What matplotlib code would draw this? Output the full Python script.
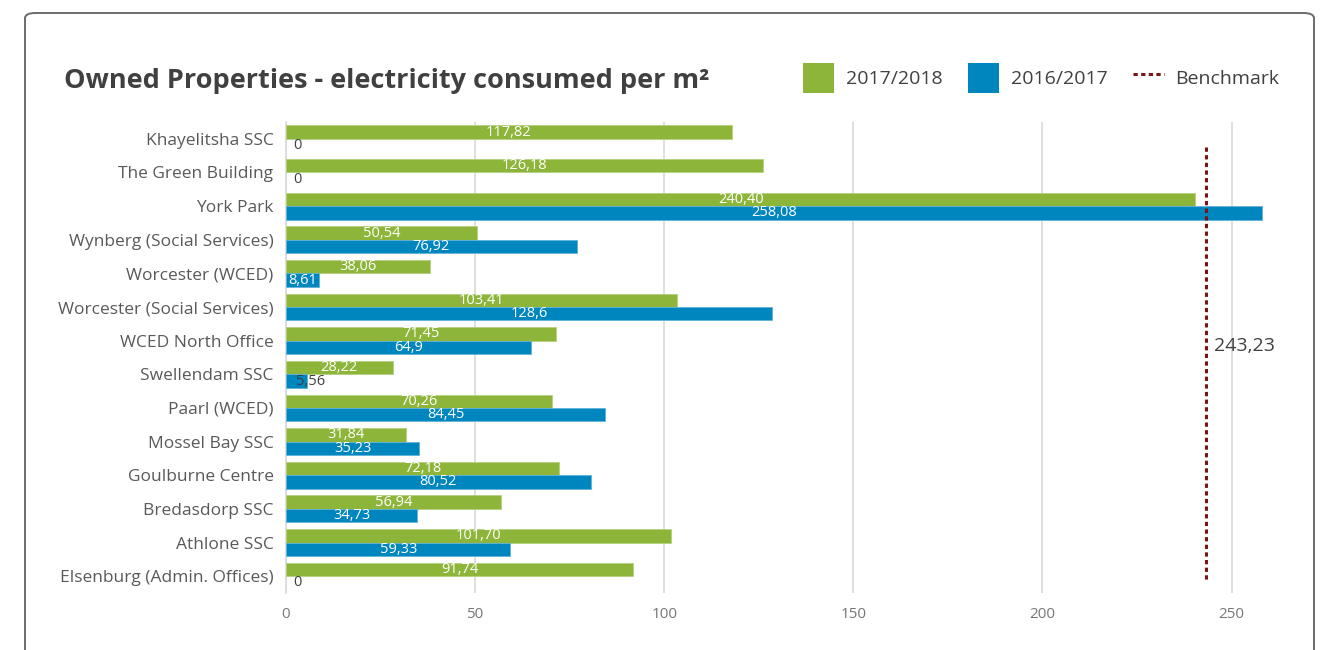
import matplotlib
matplotlib.use('Agg')
import matplotlib.pyplot as plt
from matplotlib.patches import FancyBboxPatch, Patch
from matplotlib.lines import Line2D
import numpy as np

sites = ['Khayelitsha SSC', 'The Green Building', 'York Park',
         'Wynberg (Social Services)', 'Worcester (WCED)',
         'Worcester (Social Services)', 'WCED North Office', 'Swellendam SSC',
         'Paarl (WCED)', 'Mossel Bay SSC', 'Goulburne Centre',
         'Bredasdorp SSC', 'Athlone SSC', 'Elsenburg (Admin. Offices)']
fy2018 = [117.82, 126.18, 240.40, 50.54, 38.06, 103.41, 71.45, 28.22,
          70.26, 31.84, 72.18, 56.94, 101.70, 91.74]
fy2017 = [0, 0, 258.08, 76.92, 8.61, 128.6, 64.9, 5.56,
          84.45, 35.23, 80.52, 34.73, 59.33, 0]
benchmark = 243.23
xticks = [0, 50, 100, 150, 200, 250]

GREEN = '#8DB53A'
BLUE = '#0086BE'
RED = '#7A1416'
DARK = '#404040'
MID = '#595959'

plt.rcParams['font.family'] = ['Open Sans', 'DejaVu Sans']

fig = plt.figure(figsize=(13.26, 6.5), dpi=100)

# card outline (bottom runs off the figure)
card_top = 1 - 13 / 650
card = FancyBboxPatch((25 / 1326, -0.05), 1289 / 1326, card_top + 0.05,
                      boxstyle='round,pad=0,rounding_size=0.008',
                      transform=fig.transFigure, fill=False,
                      edgecolor='#6b6b6b', linewidth=1.4)
fig.patches.append(card)

ax = fig.add_axes([286 / 1326, 1 - 593 / 650, (1277 - 286) / 1326, 471 / 650])

y = np.arange(len(sites))
h = 0.4
ax.barh(y - h / 2, fy2018, height=h, color=GREEN, edgecolor='#b5d07f',
        linewidth=[0.6 if v else 0 for v in fy2018], zorder=3)
ax.barh(y + h / 2, fy2017, height=h, color=BLUE, edgecolor='#5fb3d8',
        linewidth=[0.6 if v else 0 for v in fy2017], zorder=3)


def fmt(v, two_dec):
    if v == 0:
        return '0'
    s = ('%.2f' % v) if two_dec else ('%g' % v)
    return s.replace('.', ',')


for yi, v in zip(y - h / 2, fy2018):
    ax.text(v / 2, yi, fmt(v, True), ha='center', va='center',
            color='white', fontsize=10.5, zorder=4)
for yi, v in zip(y + h / 2, fy2017):
    if v > 8:
        ax.text(v / 2, yi, fmt(v, False), ha='center', va='center',
                color='white', fontsize=10.5, zorder=4)
    else:
        ax.annotate(fmt(v, False), (0, yi), xytext=(5 if v == 0 else 7, 0),
                    textcoords='offset points', ha='left', va='center',
                    color=DARK, fontsize=10.5, zorder=4)

# benchmark line
ax.vlines(benchmark, 0.25, 13.12, colors=RED, linestyles=(0, (1.4, 1.1)),
          linewidth=2.2, zorder=5)
ax.annotate(fmt(benchmark, True), (benchmark, 6.17), xytext=(6, 0),
            textcoords='offset points', ha='left', va='center',
            color=DARK, fontsize=14)

ax.set_xlim(0, 262)
ax.set_ylim(13.5, -0.5)
ax.set_xticks(xticks)
ax.set_xticklabels([str(t) for t in xticks])
ax.set_yticks(y)
ax.set_yticklabels(sites)
ax.tick_params(axis='x', length=0, pad=10, labelsize=11, labelcolor='#777777')
ax.tick_params(axis='y', length=0, pad=9, labelsize=12.5, labelcolor=MID)
ax.grid(axis='x', color='#d9d9d9', linewidth=1.2, zorder=0)
for side in ['top', 'right', 'bottom']:
    ax.spines[side].set_visible(False)
ax.spines['left'].set_color('#d9d9d9')
ax.spines['left'].set_linewidth(1.2)

fig.text(64 / 1326, 1 - 88 / 650, 'Owned Properties - electricity consumed per m²',
         fontsize=19.5, fontweight='bold', color=DARK, ha='left', va='baseline')

handles = [Patch(facecolor=GREEN, edgecolor='none'),
           Patch(facecolor=BLUE, edgecolor='none'),
           Line2D([], [], color=RED, linestyle=(0, (1.4, 1.1)), linewidth=2.2)]
fig.legend(handles, ['2017/2018', '2016/2017', 'Benchmark'], ncol=3,
           loc='center right', bbox_to_anchor=(1297 / 1326, 1 - 78 / 650),
           frameon=False, fontsize=14, handlelength=1.6, handleheight=2.0,
           handletextpad=0.6, columnspacing=1.3, labelcolor=DARK)

fig.savefig('out.png', dpi=100)
